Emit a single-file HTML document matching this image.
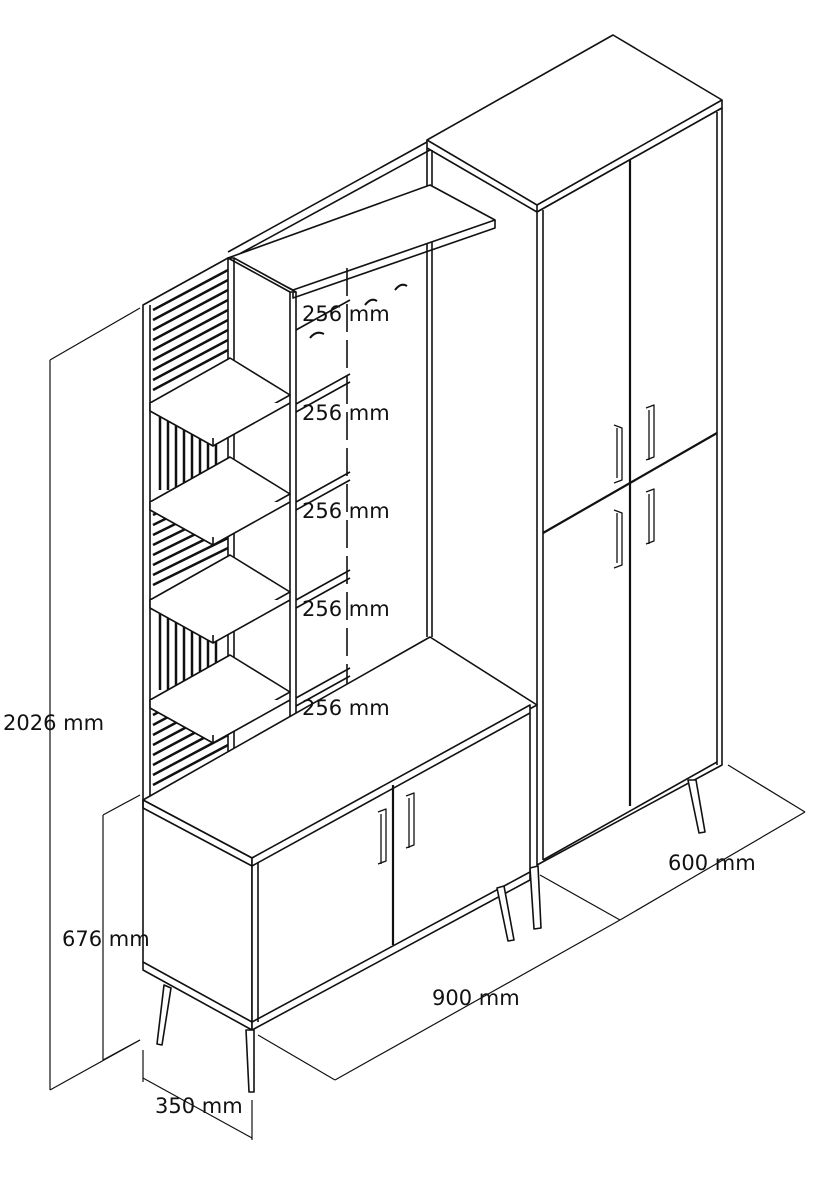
<!DOCTYPE html>
<html><head><meta charset="utf-8"><style>
html,body{margin:0;padding:0;background:#fff;width:820px;height:1180px;overflow:hidden}
svg{display:block}
text{font-family:"DejaVu Sans","Liberation Sans",sans-serif;font-size:21px;fill:#111}
</style></head><body>
<svg width="820" height="1180" viewBox="0 0 820 1180" xmlns="http://www.w3.org/2000/svg">
<g fill="none" stroke="#111" stroke-width="1.6" stroke-linejoin="round">
<polygon points="427,140 613,35 722,100 537,205" fill="#fff"/>
<polyline points="427,140 427,148 537,212 722,108 722,100"/>
<line x1="537" y1="205" x2="537" y2="212"/>
<polygon points="537,212 722,108 722,765 537,865" fill="#fff"/>
<polyline points="543,210 543,860"/>
<polyline points="717,112 717,765"/>
<line x1="630" y1="160" x2="630" y2="806" stroke-width="2.2"/>
<line x1="543" y1="533" x2="717" y2="433" stroke-width="2.2"/>
<line x1="543" y1="860" x2="717" y2="762"/>
<polygon points="688,780 696,780 705,832 699,833" fill="#fff"/>
<polygon points="530,868 538,866 541,928 534,929" fill="#fff"/>
<g stroke-width="1.3">
<path d="M614,425 l8,3 v52 l-8,3 M617,428 v50"/>
<path d="M646,408 l8,-3 v52 l-8,3 M649,410 v50"/>
<path d="M614,510 l8,3 v52 l-8,3 M617,513 v50"/>
<path d="M646,492 l8,-3 v52 l-8,3 M649,494 v50"/>
</g>
<line x1="228" y1="252" x2="427" y2="142"/>
<line x1="232" y1="258" x2="430" y2="150"/>
<line x1="427" y1="148" x2="427" y2="637"/>
<line x1="432" y1="150" x2="432" y2="637"/>
<polygon points="228,258 430,185 495,220 293,290" fill="#fff"/>
<polyline points="293,290 293,298 495,228 495,220"/>
<path d="M310,338 q6,-8 14,-4 M365,305 q6,-8 12,-4 M395,290 q6,-8 12,-4" stroke-width="2"/>
<polygon points="143,305 228,258 228,800 143,800" fill="#fff"/>
<line x1="150" y1="305" x2="150" y2="800"/>
<g stroke-width="2.5">
<line x1="153" y1="310" x2="228" y2="270"/><line x1="153" y1="320" x2="228" y2="280"/><line x1="153" y1="330" x2="228" y2="290"/><line x1="153" y1="340" x2="228" y2="300"/><line x1="153" y1="350" x2="228" y2="310"/><line x1="153" y1="360" x2="228" y2="320"/><line x1="153" y1="370" x2="228" y2="330"/><line x1="153" y1="380" x2="228" y2="340"/><line x1="153" y1="390" x2="228" y2="350"/>
<line x1="160" y1="415" x2="160" y2="490"/><line x1="168" y1="418" x2="168" y2="490"/><line x1="176" y1="422" x2="176" y2="488"/><line x1="184" y1="425" x2="184" y2="485"/><line x1="192" y1="430" x2="192" y2="480"/><line x1="200" y1="432" x2="200" y2="475"/><line x1="208" y1="436" x2="208" y2="470"/><line x1="216" y1="438" x2="216" y2="465"/>
<line x1="153" y1="515" x2="228" y2="478"/><line x1="153" y1="525" x2="228" y2="488"/><line x1="153" y1="535" x2="228" y2="498"/><line x1="153" y1="545" x2="228" y2="508"/><line x1="153" y1="555" x2="228" y2="518"/><line x1="153" y1="565" x2="228" y2="528"/><line x1="153" y1="575" x2="228" y2="538"/><line x1="153" y1="585" x2="228" y2="548"/>
<line x1="160" y1="612" x2="160" y2="690"/><line x1="168" y1="616" x2="168" y2="690"/><line x1="176" y1="620" x2="176" y2="688"/><line x1="184" y1="624" x2="184" y2="685"/><line x1="192" y1="628" x2="192" y2="680"/><line x1="200" y1="632" x2="200" y2="675"/><line x1="208" y1="636" x2="208" y2="670"/><line x1="216" y1="638" x2="216" y2="665"/>
<line x1="153" y1="715" x2="228" y2="675"/><line x1="153" y1="725" x2="228" y2="685"/><line x1="153" y1="735" x2="228" y2="695"/><line x1="153" y1="745" x2="228" y2="705"/><line x1="153" y1="755" x2="228" y2="715"/><line x1="153" y1="765" x2="228" y2="725"/><line x1="153" y1="775" x2="228" y2="735"/><line x1="153" y1="785" x2="228" y2="745"/>
</g>
<polygon points="228,258 234,258 296,292 290,292" fill="#fff"/>
<line x1="290" y1="292" x2="290" y2="785"/>
<line x1="296" y1="292" x2="296" y2="785"/>
<line x1="234" y1="258" x2="234" y2="775"/>
<g fill="#fff">
<polygon points="150,403 213,438 290,395 230,358"/><polyline points="150,403 150,411 213,446 290,403"/><line x1="213" y1="438" x2="213" y2="446"/>
<polygon points="150,502 213,537 290,494 230,457"/><polyline points="150,502 150,510 213,545 290,502"/><line x1="213" y1="537" x2="213" y2="545"/>
<polygon points="150,600 213,635 290,592 230,555"/><polyline points="150,600 150,608 213,643 290,600"/><line x1="213" y1="635" x2="213" y2="643"/>
<polygon points="150,700 213,735 290,692 230,655"/><polyline points="150,700 150,708 213,743 290,700"/><line x1="213" y1="735" x2="213" y2="743"/>
</g>
<line x1="296" y1="330" x2="350" y2="300"/><line x1="296" y1="404" x2="350" y2="374"/><line x1="296" y1="412" x2="350" y2="382"/>
<line x1="296" y1="502" x2="350" y2="472"/><line x1="296" y1="510" x2="350" y2="480"/>
<line x1="296" y1="600" x2="350" y2="570"/><line x1="296" y1="608" x2="350" y2="578"/>
<line x1="296" y1="698" x2="350" y2="668"/><line x1="296" y1="706" x2="350" y2="676"/>
<line x1="347" y1="268" x2="347" y2="752" stroke-dasharray="28,8"/>
<polygon points="143,800 430,637 537,705 252,858" fill="#fff"/>
<polygon points="143,800 252,858 252,1030 143,970" fill="#fff"/>
<polygon points="252,858 530,705 530,880 252,1030" fill="#fff"/>
<polyline points="143,800 143,808 252,866 530,713"/>
<line x1="258" y1="862" x2="258" y2="1022"/>
<line x1="393" y1="785" x2="393" y2="945" stroke-width="2.2"/>
<line x1="143" y1="962" x2="252" y2="1022"/>
<line x1="252" y1="1022" x2="530" y2="872"/>
<g stroke-width="1.3">
<path d="M378,812 l8,-3 v52 l-8,3 M381,814 v50"/>
<path d="M406,796 l8,-3 v52 l-8,3 M409,798 v50"/>
</g>
<polygon points="164,985 171,988 162,1045 157,1044" fill="#fff"/>
<polygon points="246,1030 254,1030 254,1092 249,1092" fill="#fff"/>
<polygon points="497,888 504,886 514,940 508,941" fill="#fff"/>
<g stroke-width="1.2">
<line x1="50" y1="360" x2="50" y2="1090"/><line x1="50" y1="360" x2="140" y2="308"/><line x1="50" y1="1090" x2="140" y2="1040"/>
<line x1="103" y1="815" x2="103" y2="1060"/><line x1="103" y1="815" x2="140" y2="795"/><line x1="103" y1="1060" x2="140" y2="1040"/>
<line x1="143" y1="1078" x2="252" y2="1138"/><line x1="143" y1="1050" x2="143" y2="1082"/><line x1="252" y1="1100" x2="252" y2="1140"/>
<line x1="335" y1="1080" x2="620" y2="920"/><line x1="258" y1="1035" x2="335" y2="1080"/><line x1="540" y1="875" x2="620" y2="920"/>
<line x1="620" y1="920" x2="805" y2="812"/><line x1="728" y1="765" x2="805" y2="812"/>
</g>
</g>
<g>
<text x="302" y="321">256 mm</text>
<text x="302" y="420">256 mm</text>
<text x="302" y="518">256 mm</text>
<text x="302" y="616">256 mm</text>
<text x="302" y="715">256 mm</text>
<text x="3" y="730">2026 mm</text>
<text x="62" y="946">676 mm</text>
<text x="155" y="1113">350 mm</text>
<text x="432" y="1005">900 mm</text>
<text x="668" y="870">600 mm</text>
</g>
</svg>
</body></html>
